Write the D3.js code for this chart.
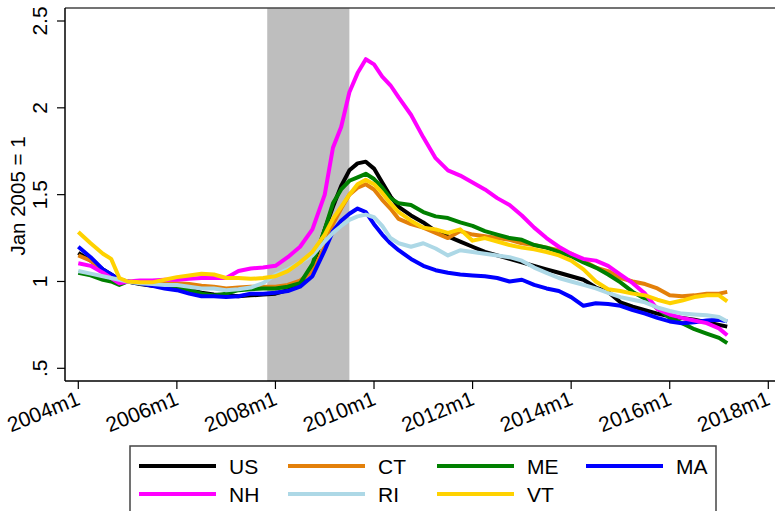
<!DOCTYPE html>
<html>
<head>
<meta charset="utf-8">
<script src="https://cdn.jsdelivr.net/npm/d3@7"></script>
<style>
  html, body { margin: 0; padding: 0; background: #fff; }
  svg { display: block; font-family: "Liberation Sans", Arial, sans-serif; }
</style>
</head>
<body>
<svg id="chart" width="775" height="511"></svg>
<script>
// month index since 2004m1
const months = [0,3,6,8,10,12,15,18,21,24,27,30,33,36,39,42,45,48,51,54,57,60,62,64,66,68,70,72,74,76,78,81,84,87,90,93,96,99,102,105,108,111,114,117,120,123,126,129,132,135,138,141,144,147,150,153,156,158];

const US = [1.165,1.12,1.07,1.04,1.01,1.00,0.985,0.975,0.97,0.965,0.955,0.935,0.925,0.92,0.915,0.92,0.925,0.93,0.95,0.99,1.08,1.30,1.43,1.55,1.64,1.68,1.69,1.65,1.57,1.49,1.43,1.38,1.34,1.29,1.26,1.23,1.20,1.17,1.15,1.13,1.11,1.09,1.07,1.05,1.03,1.01,0.965,0.94,0.88,0.855,0.835,0.815,0.80,0.79,0.78,0.765,0.75,0.74];
const CT = [1.15,1.12,1.06,1.03,1.01,1.00,0.99,0.99,0.99,0.99,0.985,0.975,0.97,0.96,0.965,0.97,0.97,0.97,0.98,1.005,1.06,1.20,1.33,1.42,1.50,1.54,1.56,1.53,1.47,1.42,1.36,1.33,1.31,1.28,1.25,1.29,1.27,1.26,1.25,1.24,1.22,1.21,1.195,1.18,1.16,1.12,1.08,1.06,1.02,1.00,0.985,0.96,0.92,0.915,0.92,0.93,0.93,0.94];
const ME = [1.05,1.035,1.01,1.00,0.98,1.00,0.99,0.98,0.975,0.97,0.95,0.93,0.92,0.93,0.95,0.955,0.96,0.96,0.97,0.99,1.10,1.30,1.45,1.53,1.58,1.60,1.62,1.59,1.54,1.48,1.45,1.44,1.40,1.375,1.365,1.34,1.32,1.29,1.27,1.25,1.24,1.21,1.195,1.17,1.145,1.11,1.08,1.04,0.995,0.94,0.90,0.845,0.79,0.76,0.725,0.70,0.675,0.645];
const MA = [1.20,1.14,1.07,1.04,1.01,1.00,0.99,0.975,0.96,0.95,0.93,0.915,0.915,0.91,0.915,0.93,0.93,0.935,0.945,0.97,1.03,1.18,1.29,1.35,1.39,1.42,1.40,1.33,1.27,1.22,1.18,1.13,1.09,1.065,1.05,1.04,1.035,1.03,1.02,1.00,1.01,0.98,0.96,0.945,0.91,0.86,0.875,0.87,0.86,0.835,0.815,0.79,0.77,0.76,0.765,0.775,0.78,0.77];
const NH = [1.105,1.09,1.05,1.02,0.99,1.00,1.005,1.005,1.01,1.01,1.015,1.02,1.02,1.02,1.06,1.075,1.08,1.09,1.14,1.20,1.30,1.50,1.77,1.89,2.09,2.20,2.28,2.25,2.18,2.13,2.06,1.96,1.83,1.71,1.64,1.61,1.57,1.53,1.48,1.44,1.38,1.31,1.25,1.20,1.16,1.13,1.12,1.09,1.04,0.99,0.93,0.84,0.81,0.79,0.775,0.76,0.73,0.69];
const RI = [1.06,1.045,1.03,1.02,1.01,1.00,0.99,0.985,0.98,0.98,0.97,0.96,0.96,0.95,0.955,0.965,0.99,1.04,1.07,1.11,1.15,1.23,1.28,1.32,1.355,1.375,1.385,1.37,1.32,1.25,1.22,1.20,1.22,1.19,1.15,1.18,1.17,1.16,1.15,1.14,1.12,1.08,1.05,1.02,1.00,0.98,0.96,0.935,0.91,0.895,0.88,0.85,0.83,0.815,0.81,0.805,0.795,0.77];
const VT = [1.285,1.22,1.16,1.13,1.02,1.00,0.995,0.995,1.01,1.025,1.035,1.045,1.04,1.02,1.02,1.015,1.02,1.03,1.06,1.11,1.17,1.27,1.36,1.43,1.50,1.56,1.585,1.56,1.51,1.45,1.40,1.35,1.31,1.30,1.28,1.30,1.235,1.25,1.23,1.21,1.195,1.185,1.17,1.15,1.12,1.07,1.00,0.955,0.945,0.93,0.92,0.895,0.875,0.89,0.91,0.92,0.92,0.885];

const seriesNames = ["US","CT","ME","MA","NH","RI","VT"];
const seriesColors = ["#000000","#e3800a","#008000","#0000ff","#ff00ff","#add8e6","#ffd200"];
const seriesValues = [US, CT, ME, MA, NH, RI, VT];

const xTickMonths = [0,24,48,72,96,120,144,168];
const xTickLabels = ["2004m1","2006m1","2008m1","2010m1","2012m1","2014m1","2016m1","2018m1"];
const yTicks = [0.5,1,1.5,2,2.5];
const yTickLabels = [".5","1","1.5","2","2.5"];
const recession = [46, 66];
const yTitle = "Jan 2005 = 1";

const svg = d3.select("#chart");
const W = 775;
const plotLeft = 65, plotTop = 8, plotBottom = 381;

const x = d3.scaleLinear().domain([0,168]).range([78.3, 768.3]);
const y = d3.scaleLinear().domain([0.5,2.5]).range([368.3, 21]);

// recession shading
svg.append("rect")
  .attr("x", x(recession[0])).attr("y", plotTop)
  .attr("width", x(recession[1]) - x(recession[0]))
  .attr("height", plotBottom - plotTop)
  .attr("fill", "#bebebe");

// series
const line = d3.line().x((d,i)=>x(months[i])).y(d=>y(d));
seriesValues.forEach((vals, k) => {
  svg.append("path")
    .attr("d", line(vals))
    .attr("fill","none")
    .attr("stroke", seriesColors[k])
    .attr("stroke-width", 4)
    .attr("stroke-linejoin","round");
});

// frame lines
svg.append("line").attr("x1",plotLeft).attr("x2",W).attr("y1",plotTop).attr("y2",plotTop)
  .attr("stroke","#444").attr("stroke-width",1.5);
svg.append("line").attr("x1",plotLeft).attr("x2",W).attr("y1",plotBottom).attr("y2",plotBottom)
  .attr("stroke","#000").attr("stroke-width",1.5);
svg.append("line").attr("x1",plotLeft).attr("x2",plotLeft).attr("y1",plotTop).attr("y2",plotBottom)
  .attr("stroke","#000").attr("stroke-width",1.5);

// y axis ticks
yTicks.forEach((v,i)=>{
  svg.append("line").attr("x1",plotLeft-8).attr("x2",plotLeft).attr("y1",y(v)).attr("y2",y(v))
    .attr("stroke","#000").attr("stroke-width",1.2);
  svg.append("text")
    .attr("transform",`translate(46.5,${y(v)}) rotate(-90)`)
    .attr("text-anchor","middle")
    .attr("font-size",21)
    .text(yTickLabels[i]);
});
svg.append("text")
  .attr("transform",`translate(25,196) rotate(-90)`)
  .attr("text-anchor","middle")
  .attr("font-size",20.5)
  .text(yTitle);

// x axis ticks
xTickMonths.forEach((m,i)=>{
  svg.append("line").attr("x1",x(m)).attr("x2",x(m)).attr("y1",plotBottom).attr("y2",plotBottom+8)
    .attr("stroke","#000").attr("stroke-width",1.2);
  svg.append("text")
    .attr("transform",`translate(${x(m)+3},404) rotate(-22)`)
    .attr("text-anchor","end")
    .attr("font-size",21)
    .text(xTickLabels[i]);
});

// legend
svg.append("rect").attr("x",130).attr("y",446).attr("width",586).attr("height",80)
  .attr("fill","#fff").attr("stroke","#444").attr("stroke-width",1.5);
seriesNames.forEach((name,k)=>{
  const col = k % 4, row = Math.floor(k/4);
  const lx = 139 + col*149, ly = 466 + row*28;
  svg.append("line").attr("x1",lx).attr("x2",lx+77).attr("y1",ly).attr("y2",ly)
    .attr("stroke",seriesColors[k]).attr("stroke-width",4);
  svg.append("text").attr("x",lx+90).attr("y",ly+7.5)
    .attr("font-size",21).text(name);
});
</script>
</body>
</html>
